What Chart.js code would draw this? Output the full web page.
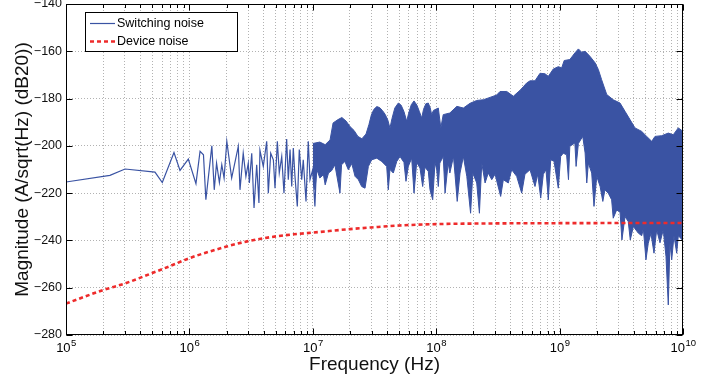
<!DOCTYPE html>
<html>
<head>
<meta charset="utf-8">
<script src="https://cdn.jsdelivr.net/npm/chart.js@4.4.1/dist/chart.umd.min.js"></script>
<style>
  html, body { margin: 0; padding: 0; background: #fff; }
  #wrap { width: 717px; height: 381px; }
</style>
</head>
<body>
<div id="wrap"><canvas id="noiseChart" width="717" height="381"></canvas></div>
<script>
// Switching noise, sparse low-frequency part (Hz, dB20)
const sparseFreq = [1.00e5, 2.27e5, 3.01e5, 5.26e5, 6.03e5, 7.50e5, 8.39e5, 9.80e5, 1.13e6, 1.22e6,
  1.30e6, 1.36e6, 1.52e6, 1.59e6, 1.66e6, 1.75e6, 1.83e6, 1.91e6, 2.01e6, 2.20e6,
  2.49e6, 2.57e6, 2.73e6, 2.87e6, 3.00e6, 3.06e6, 3.20e6, 3.34e6, 3.51e6, 3.66e6,
  3.73e6, 3.97e6, 4.23e6, 4.36e6, 4.56e6, 4.79e6, 4.94e6, 5.16e6, 5.35e6, 5.60e6,
  5.84e6, 6.14e6, 6.33e6, 6.54e6, 6.75e6, 6.95e6, 7.17e6, 7.49e6, 7.77e6, 8.13e6,
  8.37e6, 8.81e6, 9.19e6, 9.49e6, 9.98e6, 1.04e7, 1.09e7];
const sparseDb = [-215.3, -212.5, -209.8, -211.1, -215.5, -202.8, -210.4, -205.6, -216.0, -202.3,
  -203.8, -222.8, -200.0, -218.6, -207.3, -215.5, -208.0, -213.6, -198.1, -213.6,
  -200.2, -218.6, -203.1, -212.9, -207.3, -215.7, -203.1, -226.3, -208.0, -224.2,
  -201.9, -208.7, -198.1, -220.0, -203.1, -205.9, -217.9, -198.1, -211.5, -204.5,
  -220.0, -197.1, -214.3, -201.6, -217.2, -200.9, -212.9, -225.6, -201.6, -214.3,
  -205.9, -223.5, -198.1, -214.3, -210.1, -225.6, -198.8];

// Switching noise, dense part: top edge of the band
const upperFreq = [1.00e7, 1.14e7, 1.26e7, 1.38e7, 1.46e7, 1.60e7, 1.72e7, 1.86e7, 2.00e7, 2.16e7,
  2.32e7, 2.50e7, 2.70e7, 2.85e7, 2.98e7, 3.12e7, 3.30e7, 3.48e7, 3.66e7, 3.85e7,
  4.05e7, 4.22e7, 4.38e7, 4.62e7, 4.93e7, 5.20e7, 5.48e7, 5.77e7, 5.98e7, 6.28e7,
  6.61e7, 6.98e7, 7.32e7, 7.63e7, 7.90e7, 8.25e7, 8.63e7, 8.95e7, 9.19e7, 9.50e7,
  9.78e7, 1.04e8, 1.09e8, 1.14e8, 1.29e8, 1.47e8, 1.66e8, 1.88e8, 2.13e8, 2.41e8,
  2.73e8, 3.09e8, 3.29e8, 3.73e8, 4.22e8, 4.78e8, 5.08e8, 5.41e8, 5.76e8, 6.32e8,
  6.94e8, 7.61e8, 8.10e8, 8.89e8, 9.76e8, 1.04e9, 1.09e9, 1.21e9, 1.33e9, 1.42e9,
  1.51e9, 1.61e9, 1.76e9, 1.94e9, 2.06e9, 2.19e9, 2.41e9, 2.72e9, 3.09e9, 3.39e9,
  3.72e9, 4.08e9, 4.63e9, 5.08e9, 5.58e9, 5.93e9, 6.72e9, 7.60e9, 8.34e9, 9.16e9, 1.00e10];
const upperDb = [-199.0, -198.4, -199.5, -197.5, -190.3, -188.9, -188.0, -189.5, -191.8, -193.5,
  -196.0, -197.0, -195.0, -191.0, -187.0, -184.6, -183.4, -183.8, -185.0, -186.6,
  -189.0, -192.5, -188.5, -184.0, -181.9, -182.8, -185.5, -189.6, -186.2, -182.6,
  -181.0, -182.8, -185.6, -188.2, -184.5, -182.2, -181.9, -184.0, -186.8, -185.0,
  -184.7, -184.0, -192.4, -186.8, -186.1, -183.3, -184.0, -182.0, -180.8, -180.5,
  -179.5, -178.5, -177.0, -177.0, -179.0, -176.5, -175.0, -173.4, -172.5, -172.5,
  -169.3, -169.5, -170.6, -167.5, -166.5, -167.0, -163.9, -163.5, -160.7, -159.0,
  -160.4, -160.0, -162.1, -164.9, -167.7, -172.0, -178.3, -180.5, -181.9, -185.4,
  -188.9, -192.4, -193.9, -196.0, -198.1, -196.0, -195.7, -194.6, -195.3, -192.4, -193.9];

// Switching noise, dense part: bottom edge of the band with its dips
const lowerFreq = [1.00e7, 1.04e7, 1.08e7, 1.14e7, 1.22e7, 1.26e7, 1.34e7, 1.42e7, 1.51e7, 1.66e7,
  1.71e7, 1.82e7, 1.94e7, 2.07e7, 2.20e7, 2.34e7, 2.49e7, 2.65e7, 2.82e7, 3.00e7,
  3.30e7, 3.62e7, 3.97e7, 4.09e7, 4.22e7, 4.49e7, 4.79e7, 5.09e7, 5.48e7, 5.69e7,
  5.94e7, 6.33e7, 6.61e7, 6.95e7, 7.39e7, 7.77e7, 8.11e7, 8.63e7, 8.91e7, 9.37e7,
  9.78e7, 1.01e8, 1.04e8, 1.07e8, 1.14e8, 1.18e8, 1.25e8, 1.29e8, 1.38e8, 1.42e8,
  1.48e8, 1.56e8, 1.66e8, 1.77e8, 1.90e8, 1.98e8, 2.13e8, 2.24e8, 2.34e8, 2.49e8,
  2.64e8, 2.82e8, 3.00e8, 3.33e8, 3.50e8, 3.84e8, 4.09e8, 4.49e8, 4.93e8, 5.24e8,
  5.76e8, 6.32e8, 6.65e8, 7.03e8, 7.38e8, 7.76e8, 8.10e8, 8.47e8, 9.01e8, 9.76e8,
  1.02e9, 1.07e9, 1.14e9, 1.18e9, 1.21e9, 1.33e9, 1.36e9, 1.42e9, 1.54e9, 1.61e9,
  1.66e9, 1.71e9, 1.82e9, 1.90e9, 2.00e9, 2.13e9, 2.24e9, 2.33e9, 2.48e9, 2.64e9,
  2.72e9, 2.90e9, 3.09e9, 3.20e9, 3.39e9, 3.60e9, 3.74e9, 3.96e9, 4.34e9, 4.63e9,
  4.77e9, 5.01e9, 5.23e9, 5.50e9, 5.82e9, 6.12e9, 6.51e9, 6.92e9, 7.28e9, 7.60e9,
  7.84e9, 8.10e9, 8.45e9, 8.89e9, 9.16e9, 9.87e9, 1.00e10];
const lowerDb = [-211.5, -218.6, -210.1, -213.6, -212.2, -216.5, -211.5, -210.5, -208.0, -220.0,
  -208.0, -206.6, -210.1, -207.5, -212.9, -214.3, -217.2, -217.9, -208.7, -205.9,
  -205.2, -206.6, -208.7, -218.6, -210.0, -211.5, -206.6, -204.5, -207.0, -215.0,
  -208.7, -205.2, -220.0, -207.0, -209.4, -217.2, -209.0, -210.8, -218.6, -222.8,
  -207.0, -210.1, -217.2, -207.3, -204.5, -220.0, -207.3, -211.5, -204.5, -212.0,
  -223.5, -211.5, -204.5, -212.9, -228.5, -211.5, -215.7, -228.5, -207.3, -215.7,
  -211.5, -214.3, -212.0, -221.4, -214.3, -215.7, -210.1, -212.9, -220.0, -212.0,
  -210.1, -217.2, -212.0, -222.1, -212.0, -210.1, -222.8, -205.9, -206.5, -217.9,
  -204.5, -203.1, -203.8, -214.3, -200.2, -198.8, -208.7, -199.0, -196.0, -203.0,
  -215.7, -207.3, -211.5, -225.6, -212.9, -217.2, -223.5, -218.6, -220.0, -222.8,
  -230.6, -227.1, -228.0, -239.8, -229.9, -232.0, -239.8, -234.1, -236.9, -238.0,
  -235.0, -248.2, -241.2, -237.0, -245.4, -235.5, -241.0, -235.5, -246.8, -267.3,
  -241.0, -248.2, -238.0, -245.4, -238.0, -239.8, -234.1];

// Device noise
const deviceFreq = [1e5, 2e5, 3e5, 5e5, 7e5, 1e6, 2e6, 3e6, 5e6, 7e6, 1e7, 2e7, 3e7, 5e7, 1e8, 3e8, 1e9, 1e10];
const deviceDb = [-266.7, -261.0, -258.2, -253.8, -250.8, -247.5, -242.6, -240.3, -238.3, -237.4,
  -236.7, -235.2, -234.5, -233.7, -233.1, -232.8, -232.7, -232.6];

// Axis ticks
const decades = [1e5, 1e6, 1e7, 1e8, 1e9, 1e10];
const decadeExps = ["5", "6", "7", "8", "9", "10"];
const yTicks = [-280, -260, -240, -220, -200, -180, -160, -140];

const BLUE = "#3a53a3";
const RED = "#ee2b2b";
const GRID = "rgba(0, 0, 0, 0.3)";
const FONT = "'Liberation Sans', Arial, Helvetica, sans-serif";

// 1..9 x each decade for the log grid
const logTicks = [];
decades.forEach((d) => {
  for (let m = 1; m <= 9; m++) {
    if (d * m <= 1e10) logTicks.push(d * m);
  }
});

function toPoints(xs, ys) {
  return xs.map((x, i) => ({ x: x, y: ys[i] }));
}

// Frame, inward ticks, 10^n labels and the boxed legend
const matlabAxes = {
  id: "matlabAxes",
  afterDraw(chart) {
    const { ctx, chartArea: a, scales } = chart;
    const xs = scales.x;
    const ys = scales.y;
    const left = Math.round(a.left) + 0.5;
    const right = Math.round(a.right) - 0.5;
    const top = Math.round(a.top) + 0.5;
    const bottom = Math.round(a.bottom) - 0.5;

    ctx.save();
    ctx.strokeStyle = "#000";
    ctx.lineWidth = 1;
    ctx.beginPath();
    logTicks.forEach((v) => {
      const px = Math.round(xs.getPixelForValue(v)) + 0.5;
      const len = decades.includes(v) ? 6 : 3.5;
      ctx.moveTo(px, bottom);
      ctx.lineTo(px, bottom - len);
      ctx.moveTo(px, top);
      ctx.lineTo(px, top + len);
    });
    yTicks.forEach((v) => {
      const py = Math.round(ys.getPixelForValue(v)) + 0.5;
      ctx.moveTo(left, py);
      ctx.lineTo(left + 6, py);
      ctx.moveTo(right, py);
      ctx.lineTo(right - 6, py);
    });
    ctx.stroke();
    ctx.strokeRect(left, top, right - left, bottom - top);

    // x tick labels: 10 with a raised exponent
    ctx.fillStyle = "#000";
    ctx.textBaseline = "alphabetic";
    ctx.textAlign = "left";
    decades.forEach((v, i) => {
      const px = xs.getPixelForValue(v);
      ctx.font = "13px " + FONT;
      const wb = ctx.measureText("10").width;
      ctx.font = "9.5px " + FONT;
      const we = ctx.measureText(decadeExps[i]).width;
      const x0 = px - (wb + we) / 2;
      ctx.font = "13px " + FONT;
      ctx.fillText("10", x0, 351.5);
      ctx.font = "9.5px " + FONT;
      ctx.fillText(decadeExps[i], x0 + wb + 0.5, 346);
    });

    // legend
    const sw = chart.data.datasets[1];
    const dev = chart.data.datasets[0];
    ctx.fillStyle = "#fff";
    ctx.fillRect(85.5, 12.5, 152, 39);
    ctx.strokeStyle = "#000";
    ctx.lineWidth = 1;
    ctx.strokeRect(85.5, 12.5, 152, 39);

    ctx.strokeStyle = sw.borderColor;
    ctx.lineWidth = 1.2;
    ctx.beginPath();
    ctx.moveTo(90, 23.5);
    ctx.lineTo(115, 23.5);
    ctx.stroke();

    ctx.strokeStyle = dev.borderColor;
    ctx.lineWidth = dev.borderWidth;
    ctx.setLineDash(dev.borderDash);
    ctx.beginPath();
    ctx.moveTo(90, 41.5);
    ctx.lineTo(115, 41.5);
    ctx.stroke();
    ctx.setLineDash([]);

    ctx.fillStyle = "#000";
    ctx.font = "12.5px " + FONT;
    ctx.textBaseline = "middle";
    ctx.fillText(sw.label, 117, 23.5);
    ctx.fillText(dev.label, 117, 41.5);
    ctx.restore();
  },
};

const ctx = document.getElementById("noiseChart").getContext("2d");

const noiseChart = new Chart(ctx, {
  type: "line",
  data: {
    datasets: [
      {
        label: "Device noise",
        data: toPoints(deviceFreq, deviceDb),
        borderColor: RED,
        borderWidth: 2.6,
        borderDash: [4, 3],
        cubicInterpolationMode: "monotone",
        fill: false,
      },
      {
        label: "Switching noise",
        data: toPoints(sparseFreq, sparseDb),
        borderColor: BLUE,
        borderWidth: 1.2,
        fill: false,
      },
      {
        label: "Switching noise (band top)",
        data: toPoints(upperFreq, upperDb),
        borderColor: BLUE,
        borderWidth: 1,
        backgroundColor: BLUE,
        fill: "+1",
      },
      {
        label: "Switching noise (band bottom)",
        data: toPoints(lowerFreq, lowerDb),
        borderColor: BLUE,
        borderWidth: 1,
        fill: false,
      },
    ],
  },
  options: {
    responsive: false,
    animation: false,
    devicePixelRatio: 1,
    events: [],
    layout: { padding: { left: 0, right: 34, top: 4, bottom: 0 } },
    elements: {
      point: { radius: 0 },
      line: { tension: 0 },
    },
    plugins: {
      legend: { display: false },
      tooltip: { enabled: false },
    },
    scales: {
      x: {
        type: "logarithmic",
        min: 1e5,
        max: 1e10,
        afterBuildTicks: (scale) => {
          scale.ticks = logTicks.map((v) => ({ value: v, major: decades.includes(v) }));
        },
        ticks: { autoSkip: false, maxRotation: 0, padding: 0, callback: () => "" },
        grid: { color: GRID, lineWidth: 1, drawTicks: false },
        border: { display: false, dash: [1, 2] },
        title: {
          display: true,
          text: "Frequency (Hz)",
          color: "#111",
          font: { family: FONT, size: 19 },
          padding: { top: 0, bottom: 5 },
        },
        afterFit: (scale) => {
          scale.height = 46;
          scale.paddingLeft = 0;
          scale.paddingRight = 0;
        },
      },
      y: {
        min: -280,
        max: -140,
        afterBuildTicks: (scale) => {
          scale.ticks = yTicks.map((v) => ({ value: v }));
        },
        ticks: {
          padding: 4,
          color: "#111",
          font: { family: FONT, size: 12.5 },
          callback: (v) => String(v).replace("-", "\u2212"),
        },
        grid: { color: GRID, lineWidth: 1, drawTicks: false },
        border: { display: false, dash: [1, 2] },
        title: {
          display: true,
          text: "Magnitude (A/sqrt(Hz) (dB20))",
          color: "#111",
          font: { family: FONT, size: 19 },
          padding: { top: 11.5, bottom: 0 },
        },
        afterFit: (scale) => {
          scale.width = 66;
          scale.paddingTop = 0;
          scale.paddingBottom = 0;
        },
      },
    },
  },
  plugins: [matlabAxes],
});
</script>
</body>
</html>
